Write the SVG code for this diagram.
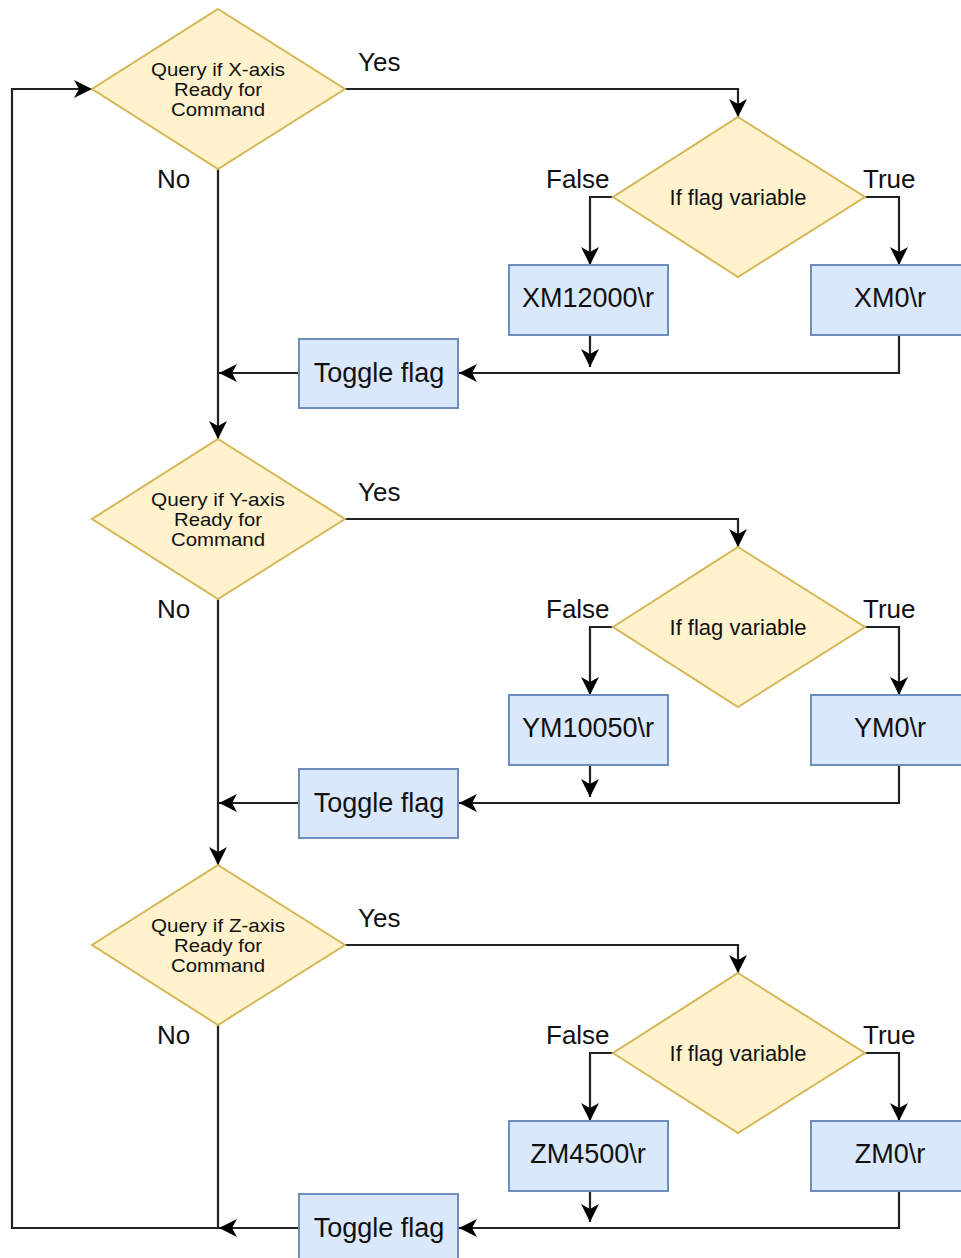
<svg xmlns="http://www.w3.org/2000/svg" width="961" height="1258" viewBox="0 0 961 1258">
<style>
.dia{fill:#fff2cc;stroke:#d6b656;stroke-width:2}
.box{fill:#dae8fc;stroke:#6c8ebf;stroke-width:2}
.edge{fill:none;stroke:#222;stroke-width:2.2}
.t{font-family:"Liberation Sans",Arial,sans-serif;fill:#111;text-anchor:middle}
.q{font-size:19px}
.f{font-size:22px}
.b{font-size:27px}
.lbl{font-family:"Liberation Sans",Arial,sans-serif;fill:#111;font-size:26px}
</style>
<defs>
<marker id="arr" viewBox="-19 -10 21 20" refX="0" refY="0" markerWidth="21" markerHeight="20" markerUnits="userSpaceOnUse" orient="auto">
<path d="M0,0 L-18,-9 L-13,0 L-18,9 Z" fill="#000"/>
</marker>
</defs>
<rect width="961" height="1258" fill="#fff"/>

<g id="connectors">
<!-- section 1 -->
<path class="edge" d="M345,89 H738 V117" marker-end="url(#arr)"/>
<path class="edge" d="M613,197 H590 V265" marker-end="url(#arr)"/>
<path class="edge" d="M865,197 H899 V265" marker-end="url(#arr)"/>
<path class="edge" d="M590,335 V367" marker-end="url(#arr)"/>
<path class="edge" d="M899,335 V373 H459" marker-end="url(#arr)"/>
<path class="edge" d="M299,373 H219" marker-end="url(#arr)"/>
<path class="edge" d="M218,169 V439" marker-end="url(#arr)"/>
<!-- section 2 -->
<path class="edge" d="M345,519 H738 V547" marker-end="url(#arr)"/>
<path class="edge" d="M613,627 H590 V695" marker-end="url(#arr)"/>
<path class="edge" d="M865,627 H899 V695" marker-end="url(#arr)"/>
<path class="edge" d="M590,765 V797" marker-end="url(#arr)"/>
<path class="edge" d="M899,765 V803 H459" marker-end="url(#arr)"/>
<path class="edge" d="M299,803 H219" marker-end="url(#arr)"/>
<path class="edge" d="M218,599 V865" marker-end="url(#arr)"/>
<!-- section 3 -->
<path class="edge" d="M345,945 H738 V973" marker-end="url(#arr)"/>
<path class="edge" d="M613,1053 H590 V1121" marker-end="url(#arr)"/>
<path class="edge" d="M865,1053 H899 V1121" marker-end="url(#arr)"/>
<path class="edge" d="M590,1191 V1222" marker-end="url(#arr)"/>
<path class="edge" d="M899,1191 V1228 H459" marker-end="url(#arr)"/>
<path class="edge" d="M299,1228 H219" marker-end="url(#arr)"/>
<path class="edge" d="M218,1025 V1228 H12 V89 H92" marker-end="url(#arr)"/>
<!-- labels -->
<text class="lbl" x="358" y="71">Yes</text>
<text class="lbl" x="157" y="188">No</text>
<text class="lbl" x="546" y="188">False</text>
<text class="lbl" x="863" y="188">True</text>
<text class="lbl" x="358" y="501">Yes</text>
<text class="lbl" x="157" y="618">No</text>
<text class="lbl" x="546" y="618">False</text>
<text class="lbl" x="863" y="618">True</text>
<text class="lbl" x="358" y="927">Yes</text>
<text class="lbl" x="157" y="1044">No</text>
<text class="lbl" x="546" y="1044">False</text>
<text class="lbl" x="863" y="1044">True</text>
</g>

<g id="queryX">
<polygon class="dia" points="218,9 345,89 218,169 92,89"/>
<text class="t q" x="218" y="76" textLength="134" lengthAdjust="spacingAndGlyphs">Query if X-axis</text>
<text class="t q" x="218" y="96" textLength="88" lengthAdjust="spacingAndGlyphs">Ready for</text>
<text class="t q" x="218" y="116" textLength="94" lengthAdjust="spacingAndGlyphs">Command</text>
</g>
<g id="flagX">
<polygon class="dia" points="738,117 865,197 738,277 613,197"/>
<text class="t f" x="738" y="205">If flag variable</text>
</g>
<g id="xm12000">
<rect class="box" x="509" y="265" width="159" height="70"/>
<text class="t b" x="588" y="307">XM12000\r</text>
</g>
<g id="xm0">
<rect class="box" x="811" y="265" width="159" height="70"/>
<text class="t b" x="890" y="307">XM0\r</text>
</g>
<g id="toggleX">
<rect class="box" x="299" y="339" width="159" height="69"/>
<text class="t b" x="379" y="382">Toggle flag</text>
</g>

<g id="queryY">
<polygon class="dia" points="218,439 345,519 218,599 92,519"/>
<text class="t q" x="218" y="506" textLength="134" lengthAdjust="spacingAndGlyphs">Query if Y-axis</text>
<text class="t q" x="218" y="526" textLength="88" lengthAdjust="spacingAndGlyphs">Ready for</text>
<text class="t q" x="218" y="546" textLength="94" lengthAdjust="spacingAndGlyphs">Command</text>
</g>
<g id="flagY">
<polygon class="dia" points="738,547 865,627 738,707 613,627"/>
<text class="t f" x="738" y="635">If flag variable</text>
</g>
<g id="ym10050">
<rect class="box" x="509" y="695" width="159" height="70"/>
<text class="t b" x="588" y="737">YM10050\r</text>
</g>
<g id="ym0">
<rect class="box" x="811" y="695" width="159" height="70"/>
<text class="t b" x="890" y="737">YM0\r</text>
</g>
<g id="toggleY">
<rect class="box" x="299" y="769" width="159" height="69"/>
<text class="t b" x="379" y="812">Toggle flag</text>
</g>

<g id="queryZ">
<polygon class="dia" points="218,865 345,945 218,1025 92,945"/>
<text class="t q" x="218" y="932" textLength="134" lengthAdjust="spacingAndGlyphs">Query if Z-axis</text>
<text class="t q" x="218" y="952" textLength="88" lengthAdjust="spacingAndGlyphs">Ready for</text>
<text class="t q" x="218" y="972" textLength="94" lengthAdjust="spacingAndGlyphs">Command</text>
</g>
<g id="flagZ">
<polygon class="dia" points="738,973 865,1053 738,1133 613,1053"/>
<text class="t f" x="738" y="1061">If flag variable</text>
</g>
<g id="zm4500">
<rect class="box" x="509" y="1121" width="159" height="70"/>
<text class="t b" x="588" y="1163">ZM4500\r</text>
</g>
<g id="zm0">
<rect class="box" x="811" y="1121" width="159" height="70"/>
<text class="t b" x="890" y="1163">ZM0\r</text>
</g>
<g id="toggleZ">
<rect class="box" x="299" y="1194" width="159" height="69"/>
<text class="t b" x="379" y="1237">Toggle flag</text>
</g>
</svg>
